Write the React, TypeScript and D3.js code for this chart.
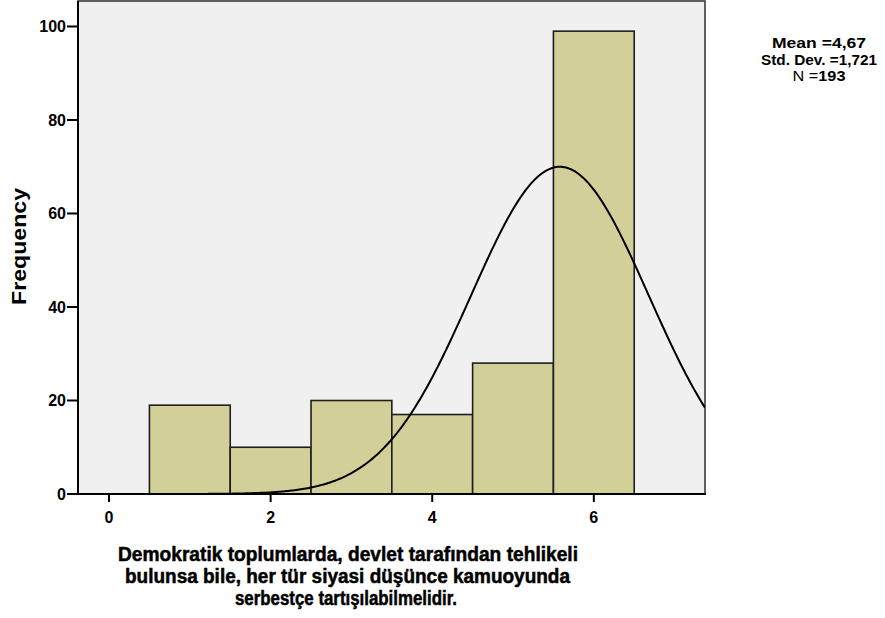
import React from "react";
import * as d3 from "d3";

// Histogram bins (response values) and frequencies
const binCenters = [1, 2, 3, 4, 5, 6];
const frequencies = [19, 10, 20, 17, 28, 99];
const xTicks = [0, 2, 4, 6];
const yTicks = [0, 20, 40, 60, 80, 100];
// Fitted normal curve as drawn in the picture
const curveMean = 5.58;
const curveSD = 1.1;
const curveN = 193;
const statsLabels = ["Mean =", "Std. Dev. =", "N ="];
const statsValues = ["4,67", "1,721", "193"];
const xTitleLines = [
  "Demokratik toplumlarda, devlet tarafından tehlikeli",
  "bulunsa bile, her tür siyasi düşünce kamuoyunda",
  "serbestçe tartışılabilmelidir.",
];
const yTitle = "Frequency";

const W = 885;
const H = 618;
const L = 78, R = 705, T = 1, B = 494;

export default function App() {
  const x = d3.scaleLinear().domain([-0.384, 7.376]).range([L, R]);
  const y = d3.scaleLinear().domain([0, 105.45]).range([B, T]);
  const pdf = (v: number) =>
    (curveN / (curveSD * Math.sqrt(2 * Math.PI))) *
    Math.exp(-((v - curveMean) ** 2) / (2 * curveSD * curveSD));
  const pts = d3.range(-0.384, 7.38, 0.02).map((v) => [v, pdf(v)] as [number, number]);
  const line = d3
    .line<[number, number]>()
    .x((d) => x(d[0]))
    .y((d) => y(d[1]))
    .curve(d3.curveLinear);
  const font = "'Liberation Sans', Arial, sans-serif";
  const titleWidths = [460, 445, 222];
  const titleCenters = [348, 347.5, 346];
  const statWidths = [94, 116, 53];
  return (
    <svg
      width={W}
      height={H}
      style={{ position: "absolute", left: 0, top: 0, background: "#fff" }}
      fontFamily={font}
    >
      <defs>
        <clipPath id="plotclip">
          <rect x={L} y={T} width={R - L} height={B - T} />
        </clipPath>
      </defs>
      <rect x={L} y={T} width={R - L} height={B - T} fill="#f0f0f0" stroke="#3a3a3a" strokeWidth={1.6} />
      {binCenters.map((c, i) => (
        <rect
          key={i}
          x={x(c - 0.5)}
          y={y(frequencies[i])}
          width={x(c + 0.5) - x(c - 0.5)}
          height={y(0) - y(frequencies[i])}
          fill="#d3cf98"
          stroke="#1e1e1e"
          strokeWidth={1.6}
        />
      ))}
      <path d={line(pts) || ""} fill="none" stroke="#000" strokeWidth={2} clipPath="url(#plotclip)" />
      {/* axes */}
      <line x1={L} x2={L} y1={T} y2={B + 1} stroke="#000" strokeWidth={2} />
      <line x1={L - 1} x2={R + 1} y1={B} y2={B} stroke="#000" strokeWidth={2.2} />
      {yTicks.map((t) => (
        <g key={t}>
          <line x1={L - 11} x2={L} y1={y(t)} y2={y(t)} stroke="#000" strokeWidth={2} />
          <text x={L - 12} y={y(t)} dy="0.36em" textAnchor="end" fontSize={16} fontWeight="bold">
            {t}
          </text>
        </g>
      ))}
      {xTicks.map((t) => (
        <g key={t}>
          <line x1={x(t)} x2={x(t)} y1={B} y2={B + 8} stroke="#000" strokeWidth={2} />
          <text x={x(t)} y={B + 29} textAnchor="middle" fontSize={16} fontWeight="bold">
            {t}
          </text>
        </g>
      ))}
      <text
        transform={`translate(26,${(188 + 305) / 2}) rotate(-90)`}
        textAnchor="middle"
        fontSize={21}
        fontWeight="bold"
        textLength={117}
        lengthAdjust="spacingAndGlyphs"
      >
        {yTitle}
      </text>
      {xTitleLines.map((s, i) => (
        <text
          key={i}
          x={titleCenters[i]}
          y={561 + i * 22}
          textAnchor="middle"
          fontSize={19.5}
          fontWeight="bold"
          stroke="#000"
          strokeWidth={0.5}
          textLength={titleWidths[i]}
          lengthAdjust="spacingAndGlyphs"
        >
          {s}
        </text>
      ))}
      {statsLabels.map((s, i) => (
        <text
          key={i}
          x={819}
          y={48 + i * 16.5}
          textAnchor="middle"
          fontSize={14}
          fontWeight="bold"
          textLength={statWidths[i]}
          lengthAdjust="spacingAndGlyphs"
        >
          <tspan fontWeight={i === 2 ? "normal" : "bold"}>{s}</tspan>
          <tspan>{statsValues[i]}</tspan>
        </text>
      ))}
    </svg>
  );
}
